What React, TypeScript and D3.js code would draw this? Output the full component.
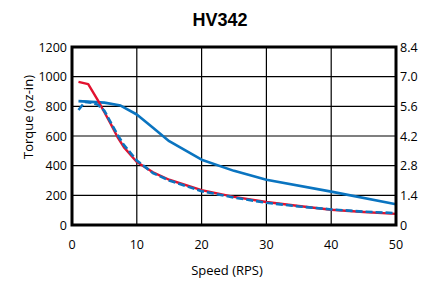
import * as d3 from "d3";
import { useEffect, useRef } from "react";

const title = "HV342";
const xTicks = [0, 10, 20, 30, 40, 50];
const yTicks = [0, 200, 400, 600, 800, 1000, 1200];
const yRightTicks = ["0", "1.4", "2.8", "4.2", "5.6", "7.0", "8.4"];

// speed (RPS), torque (oz-in)
const redSpeed = [1, 2.5, 4, 5, 6, 7, 8, 10, 12.5, 15, 20, 25, 30, 35, 40, 45, 50];
const redTorque = [965, 950, 840, 760, 680, 595, 525, 425, 355, 305, 235, 190, 155, 128, 103, 88, 75];

const dashSpeed = [1, 2, 3, 4, 5, 6, 7, 8, 10, 12.5, 15, 20, 25, 30, 35, 40, 45, 50];
const dashTorque = [775, 830, 825, 810, 770, 690, 610, 540, 435, 350, 300, 228, 185, 150, 125, 105, 90, 80];

const blueSpeed = [1, 3, 5, 7.5, 10, 12.5, 15, 20, 25, 30, 40, 50];
const blueTorque = [835, 830, 825, 805, 745, 655, 565, 440, 365, 305, 225, 140];

const App = () => {
  const ref = useRef(null);

  useEffect(() => {
    const svg = d3.select(ref.current);
    svg.selectAll("*").remove();

    const left = 72, right = 396, top = 47, bottom = 225;
    const x = d3.scaleLinear().domain([0, 50]).range([left, right]);
    const y = d3.scaleLinear().domain([0, 1200]).range([bottom, top]);
    const font = "'Open Sans', sans-serif";

    svg.append("text")
      .attr("x", 220).attr("y", 26)
      .attr("text-anchor", "middle")
      .style("font-family", "'Liberation Sans', Arial, sans-serif")
      .style("font-weight", "bold")
      .style("font-size", "18px")
      .text(title);

    // grid
    svg.append("g").selectAll("line").data(xTicks.slice(1, -1)).enter().append("line")
      .attr("x1", d => x(d)).attr("x2", d => x(d))
      .attr("y1", top).attr("y2", bottom)
      .attr("stroke", "#000").attr("stroke-width", 1.2);
    svg.append("g").selectAll("line").data(yTicks.slice(1, -1)).enter().append("line")
      .attr("x1", left).attr("x2", right)
      .attr("y1", d => y(d)).attr("y2", d => y(d))
      .attr("stroke", "#000").attr("stroke-width", 1.2);

    const line = (xs, ys) => d3.line()(xs.map((s, i) => [x(s), y(ys[i])]));

    svg.append("path").attr("d", line(blueSpeed, blueTorque))
      .attr("fill", "none").attr("stroke", "#0a74c0").attr("stroke-width", 2.6)
      .attr("stroke-linejoin", "round");
    svg.append("path").attr("d", line(redSpeed, redTorque))
      .attr("fill", "none").attr("stroke", "#e2122f").attr("stroke-width", 2.4)
      .attr("stroke-linejoin", "round");
    svg.append("path").attr("d", line(dashSpeed, dashTorque))
      .attr("fill", "none").attr("stroke", "#0a74c0").attr("stroke-width", 2.6)
      .attr("stroke-dasharray", "7,3");

    // frame
    svg.append("rect")
      .attr("x", left).attr("y", top)
      .attr("width", right - left).attr("height", bottom - top)
      .attr("fill", "none").attr("stroke", "#000").attr("stroke-width", 3);

    svg.append("g").selectAll("text").data(yTicks).enter().append("text")
      .attr("x", left - 5).attr("y", d => y(d) + 4.5)
      .attr("text-anchor", "end")
      .style("font-family", font).style("font-size", "12.5px")
      .text(d => d);
    svg.append("g").selectAll("text").data(yTicks).enter().append("text")
      .attr("x", right + 4).attr("y", d => y(d) + 4.5)
      .style("font-family", font).style("font-size", "12.5px")
      .text((d, i) => yRightTicks[i]);
    svg.append("g").selectAll("text").data(xTicks).enter().append("text")
      .attr("x", d => x(d)).attr("y", 249)
      .attr("text-anchor", "middle")
      .style("font-family", font).style("font-size", "12.5px")
      .text(d => d);

    svg.append("text")
      .attr("x", 227).attr("y", 275)
      .attr("text-anchor", "middle")
      .style("font-family", font).style("font-size", "13px")
      .text("Speed (RPS)");
    svg.append("text")
      .attr("transform", `translate(33, 117) rotate(-90)`)
      .attr("text-anchor", "middle")
      .style("font-family", font).style("font-size", "13px")
      .text("Torque (oz-in)");
  }, []);

  return (
    <svg ref={ref} width={435} height={284}
      style={{ position: "absolute", left: 0, top: 0, background: "#fff" }} />
  );
};

export default App;
